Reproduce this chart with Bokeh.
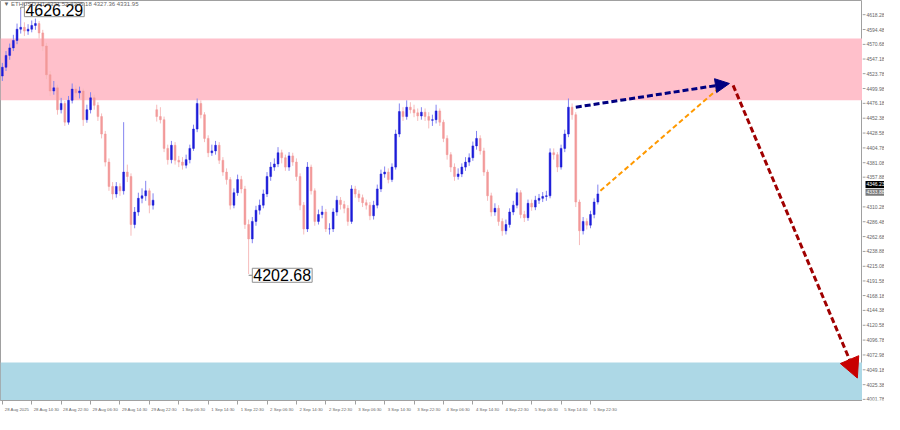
from bokeh.plotting import figure
from bokeh.layouts import row
from bokeh.models import (ColumnDataSource, FixedTicker, Range1d, BoxAnnotation, Arrow,
                          NormalHead, Label)
from bokeh.core.properties import value
from bokeh.embed import file_html
from bokeh.resources import INLINE

# ---------------- data (ETHUSD H1) ----------------
closes = [4534,4553,4565,4577,4595,4598,4592,4595,4601,4604,
          4589,4568,4522,4496,4501,4466,4476,4446,4481,4499,
          4493,4496,4450,4466,4485,4473,4455,4427,4382,4343,
          4331,4343,4336,4366,4359,4282,4302,4324,4328,4336,
          4313,4321,4455,4450,4404,4386,4409,4385,4382,4377,
          4386,4404,4435,4476,4458,4420,4397,4400,4409,4385,
          4366,4354,4313,4333,4354,4339,4282,4259,4287,4305,
          4313,4331,4359,4374,4379,4397,4389,4374,4392,4382,
          4359,4313,4275,4374,4336,4287,4298,4302,4275,4275,
          4302,4321,4314,4308,4287,4339,4331,4325,4317,4313,
          4296,4313,4339,4363,4366,4354,4374,4427,4463,4455,
          4470,4466,4461,4456,4462,4455,4449,4450,4464,4446,
          4420,4394,4374,4359,4363,4374,4382,4389,4408,4420,
          4400,4366,4328,4302,4308,4287,4272,4282,4302,4313,
          4333,4298,4293,4316,4310,4321,4324,4327,4328,4397,
          4394,4374,4404,4427,4470,4458,4318,4272,4287,4281,
          4298,4318,4331]
highs = [4541,4560,4572,4586,4604,4626.29,4606,4603,4609,4612,
         4608,4594,4573,4528,4512,4506,4485,4480,4488,4508,
         4505,4503,4500,4474,4494,4490,4478,4460,4432,4388,
         4350,4350,4348,4446,4378,4364,4310,4333,4340,4352,
         4340,4332,4474,4470,4455,4410,4416,4414,4392,4390,
         4394,4410,4442,4484,4481,4462,4425,4410,4416,4414,
         4390,4372,4358,4340,4362,4360,4344,4290,4294,4312,
         4322,4338,4366,4382,4388,4406,4402,4394,4398,4397,
         4388,4364,4318,4382,4378,4340,4306,4312,4307,4284,
         4308,4328,4326,4320,4313,4345,4344,4337,4330,4322,
         4318,4320,4346,4370,4375,4372,4380,4434,4476,4470,
         4481,4478,4474,4468,4470,4468,4462,4458,4474,4468,
         4450,4425,4398,4380,4372,4380,4390,4396,4415,4432,
         4425,4405,4370,4333,4316,4313,4292,4290,4308,4320,
         4340,4337,4304,4322,4322,4328,4331,4334,4336,4404,
         4404,4398,4410,4434,4484,4476,4462,4322,4294,4292,
         4304,4324,4346]
lows = [4512,4528,4546,4560,4571,4588,4584,4586,4590,4594,
        4580,4560,4515,4488,4490,4458,4460,4440,4442,4476,
        4486,4484,4440,4445,4460,4466,4448,4420,4375,4336,
        4322,4325,4328,4330,4350,4264,4276,4296,4316,4320,
        4300,4306,4447,4444,4398,4378,4380,4378,4374,4370,
        4372,4380,4400,4430,4452,4414,4390,4392,4394,4379,
        4360,4346,4306,4308,4328,4332,4275,4202.68,4252,4280,
        4298,4308,4326,4352,4368,4374,4380,4368,4368,4376,
        4352,4305,4266,4270,4330,4280,4282,4292,4270,4266,
        4270,4296,4306,4300,4280,4283,4325,4318,4310,4306,
        4289,4290,4308,4334,4357,4348,4350,4370,4422,4448,
        4450,4460,4454,4448,4450,4448,4436,4440,4444,4440,
        4414,4386,4366,4352,4354,4358,4368,4376,4384,4402,
        4394,4360,4320,4295,4296,4280,4264,4266,4277,4297,
        4308,4292,4286,4288,4304,4305,4315,4318,4320,4324,
        4386,4366,4370,4398,4422,4450,4310,4249,4266,4274,
        4276,4292,4314]
first_open = 4520
gap_opens = {42: 4466}          # weekend gap: bar opens away from the prior close

time_label_idx = [0, 8, 16, 24, 32, 40, 48, 56, 64, 72, 80, 88, 96, 104, 112, 120, 128, 136, 144, 152, 160]
time_labels = ["28 Aug 2025", "28 Aug 14:30", "28 Aug 22:30", "29 Aug 06:30", "29 Aug 14:30",
               "29 Aug 22:30", "1 Sep 06:30", "1 Sep 14:30", "1 Sep 22:30", "2 Sep 06:30",
               "2 Sep 14:30", "2 Sep 22:30", "3 Sep 06:30", "3 Sep 14:30", "3 Sep 22:30",
               "4 Sep 06:30", "4 Sep 14:30", "4 Sep 22:30", "5 Sep 06:30", "5 Sep 14:30",
               "5 Sep 22:30"]
price_ticks = [4001.78, 4025.38, 4049.18, 4072.98, 4096.78, 4120.58, 4144.38, 4168.18,
               4191.58, 4215.08, 4238.88, 4262.68, 4286.48, 4310.28, 4357.88, 4381.08,
               4404.78, 4428.58, 4452.38, 4476.18, 4499.98, 4523.78, 4547.18, 4570.68,
               4594.48, 4618.28]

resistance_zone = [4481, 4580]
support_zone = [3990, 4061]
swing_high = [5, 4626.29]
swing_low = [67, 4202.68]
quote_prices = [4346.23, 4333.88]
quote_colors = ["#000000", "#7a7a7a"]
header = "\u25bc ETHUSD,H1  4331.52 4335.18 4327.36 4331.95"

up_arrow_x = [156, 197.8]
up_arrow_y = [4470, 4508]
down_arrow_x = [198.8, 232.6]
down_arrow_y = [4505, 4036]
alt_path_x = [162.7, 196.0]
alt_path_y = [4336, 4506]

# ---------------- build candles ----------------
n = len(closes)
opens = [first_open] + closes[:-1]
for k, v in gap_opens.items():
    opens[k] = v
idx = list(range(n))
bull = [c >= o for o, c in zip(opens, closes)]

def pick(flag):
    sel = [i for i in idx if bull[i] == flag]
    return ColumnDataSource(dict(
        x=sel,
        top=[max(opens[i], closes[i]) for i in sel],
        bottom=[min(opens[i], closes[i]) for i in sel],
        high=[highs[i] for i in sel],
        low=[lows[i] for i in sel],
    ))

src_up = pick(True)
src_dn = pick(False)

X0, X1 = -0.5, 234.0
Y0, Y1 = 4000.0, 4641.0
W_MAIN, W_SIDE, H = 862, 22, 414
BOTTOM = 14
FONT = "Liberation Sans"

yr = Range1d(Y0, Y1)
p = figure(width=W_MAIN, height=H, x_range=Range1d(X0, X1), y_range=yr,
           output_backend="svg", toolbar_location=None, y_axis_location=None,
           min_border_left=0, min_border_top=0, min_border_right=0, min_border_bottom=BOTTOM)
p.background_fill_color = "white"
p.border_fill_color = "white"
p.outline_line_color = "#a0a0a0"
p.xgrid.visible = False
p.ygrid.visible = False

p.add_layout(BoxAnnotation(bottom=resistance_zone[0], top=resistance_zone[1],
                           fill_color="#FFC0CB", fill_alpha=1.0, line_color=None, level="underlay"))
p.add_layout(BoxAnnotation(bottom=support_zone[0], top=support_zone[1],
                           fill_color="#ADD8E6", fill_alpha=1.0, line_color=None, level="underlay"))

# wicks and bodies
p.segment(x0="x", y0="low", x1="x", y1="high", source=src_up, line_color="#8484f0", line_width=1)
p.segment(x0="x", y0="low", x1="x", y1="high", source=src_dn, line_color="#f6bcbc", line_width=1)
p.vbar(x="x", top="top", bottom="bottom", width=0.5, source=src_up,
       fill_color="#1c1cd8", line_color="#1c1cd8", line_width=0.5)
p.vbar(x="x", top="top", bottom="bottom", width=0.5, source=src_dn,
       fill_color="#f29a9a", line_color="#f29a9a", line_width=0.5)

# forecast
p.line(alt_path_x, alt_path_y, line_color="#FF9900", line_width=2, line_dash="5 3")
p.add_layout(Arrow(end=NormalHead(size=14, fill_color="#000080", line_color="#000080"),
                   x_start=up_arrow_x[0], y_start=up_arrow_y[0], x_end=up_arrow_x[1], y_end=up_arrow_y[1],
                   line_color="#000080", line_width=3, line_dash="6 3"))
p.add_layout(Arrow(end=NormalHead(size=20, fill_color="#c80000", line_color="#c80000"),
                   x_start=down_arrow_x[0], y_start=down_arrow_y[0], x_end=down_arrow_x[1], y_end=down_arrow_y[1],
                   line_color="#a00000", line_width=3, line_dash="6 3"))

# swing labels
p.line([swing_high[0], swing_high[0], swing_high[0] + 1.0],
       [swing_high[1], swing_high[1] + 4, swing_high[1] + 4], line_color="#808080", line_width=1)
p.line([swing_low[0], swing_low[0] + 1.0],
       [swing_low[1] - 2, swing_low[1] - 2], line_color="#808080", line_width=1)
p.add_layout(Label(x=swing_high[0] + 1.0, y=swing_high[1], text=f"{swing_high[1]:.2f}",
                   text_font=FONT, text_font_size="16px", text_color="black",
                   text_baseline="middle", text_align="left", padding=1,
                   background_fill_color="white", border_line_color="#909090", border_line_width=1))
p.add_layout(Label(x=swing_low[0] + 1.0, y=swing_low[1] - 2, text=f"{swing_low[1]:.2f}",
                   text_font=FONT, text_font_size="16px", text_color="black",
                   text_baseline="middle", text_align="left", padding=1,
                   background_fill_color="white", border_line_color="#909090", border_line_width=1))

p.add_layout(Label(x=0.3, y=Y1 - 1, text=header, text_font=FONT, text_font_size="6px",
                   text_color="#666666", text_baseline="top", text_align="left"))

# time axis: minor ticks mark the bars, labels sit just right of each mark
LABEL_SHIFT = 4
xa = p.xaxis[0]
xa.ticker = FixedTicker(ticks=[i + LABEL_SHIFT for i in time_label_idx], minor_ticks=time_label_idx)
xa.major_label_overrides = {i + LABEL_SHIFT: t for i, t in zip(time_label_idx, time_labels)}
xa.major_label_text_font = FONT
xa.major_label_text_font_size = "4.3px"
xa.major_label_text_color = "#666666"
xa.major_label_standoff = 2
xa.axis_line_color = "#a0a0a0"
xa.major_tick_line_color = None
xa.major_tick_out = 4
xa.minor_tick_line_color = "#a0a0a0"
xa.minor_tick_out = 4
xa.minor_tick_in = 0

# price scale panel
s = figure(width=W_SIDE, height=H, x_range=Range1d(0, W_SIDE), y_range=yr,
           output_backend="svg", toolbar_location=None, x_axis_location=None, y_axis_location=None,
           min_border_left=0, min_border_top=0, min_border_right=0, min_border_bottom=BOTTOM)
s.outline_line_color = None
s.xgrid.visible = False
s.ygrid.visible = False
s.background_fill_color = "white"
s.border_fill_color = "white"
s.segment(x0=[0] * len(price_ticks), x1=[3] * len(price_ticks), y0=price_ticks, y1=price_ticks,
          line_color="#a0a0a0", line_width=1)
s.text(x=[4] * len(price_ticks), y=price_ticks, text=[f"{v:.2f}" for v in price_ticks],
       text_font=value(FONT), text_font_size="5px", text_color="#666666",
       text_baseline="middle", text_align="left")
s.rect(x=[12.5] * len(quote_prices), y=quote_prices, width=19, height=7, height_units="screen",
       fill_color=quote_colors, line_color=None)
s.text(x=[4] * len(quote_prices), y=quote_prices, text=[f"{v:.2f}" for v in quote_prices],
       text_font=value(FONT), text_font_size="5px", text_color="white",
       text_baseline="middle", text_align="left")

open("out.html", "w").write(file_html(row(p, s), INLINE))
